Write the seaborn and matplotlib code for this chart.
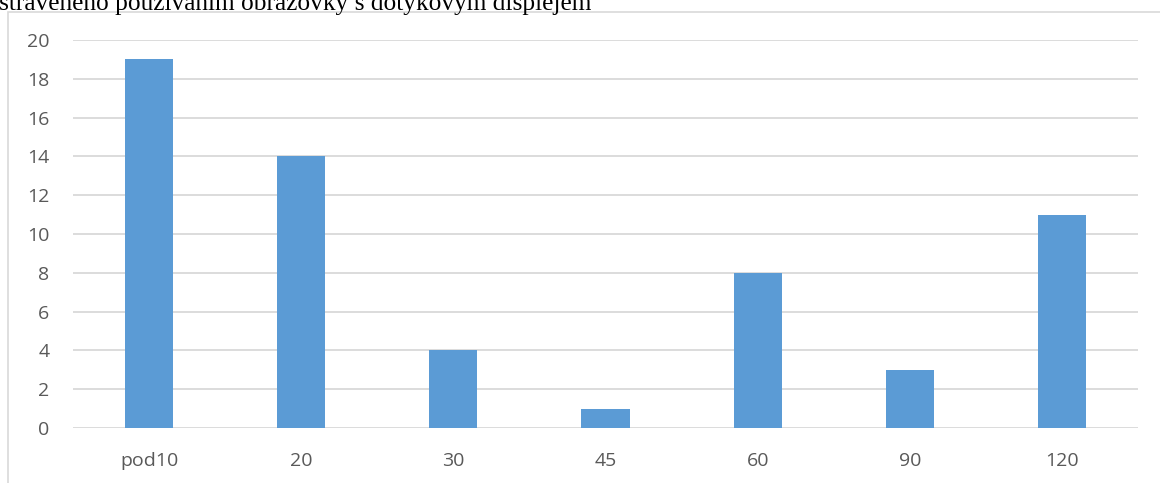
import matplotlib
matplotlib.use("Agg")
import matplotlib.pyplot as plt
from matplotlib.patches import Rectangle
import seaborn as sns
import pandas as pd

categories = ["pod10", "20", "30", "45", "60", "90", "120"]
counts = [19, 14, 4, 1, 8, 3, 11]
y_ticks = [0, 2, 4, 6, 8, 10, 12, 14, 16, 18, 20]
caption = "stráveného používáním obrazovky s dotykovým displejem"

sns.set_theme(style="white")
plt.rcParams["font.family"] = ["Open Sans", "DejaVu Sans"]

W, H = 1160, 483
fig = plt.figure(figsize=(W / 100, H / 100), dpi=100)
fig.patch.set_facecolor("white")

# chart frame, running off the right and bottom edges
fig.patches.append(Rectangle((8 / W, -0.1), 1.2, (H - 12) / H + 0.1,
                             transform=fig.transFigure, fill=False,
                             edgecolor="#D9D9D9", linewidth=1.2))

# caption text, clipped by the top edge
fig.text(-1 / W, 1 - 10 / H, caption, family="Liberation Serif",
         fontsize=18.3, color="black", ha="left", va="baseline")

ax = fig.add_axes([73 / W, 1 - 428 / H, (1138 - 73) / W, (428 - 40) / H])
df = pd.DataFrame({"cat": categories, "n": counts})
sns.barplot(data=df, x="cat", y="n", color="#5B9BD5", saturation=1,
            width=0.316, ax=ax, edgecolor="#5B9BD5", linewidth=0)

ax.set_ylim(0, 20)
ax.set_xlim(-0.5, len(categories) - 0.5)
ax.set_yticks(y_ticks)
ax.yaxis.grid(True, color="#D9D9D9", linewidth=1.3)
ax.set_axisbelow(True)
for s in ax.spines.values():
    s.set_visible(False)
ax.set_xlabel("")
ax.set_ylabel("")
ax.tick_params(axis="both", length=0, colors="#595959", labelsize=14)
ax.tick_params(axis="y", pad=17)
ax.tick_params(axis="x", pad=17)

fig.savefig("out.png", dpi=100, facecolor="white")
